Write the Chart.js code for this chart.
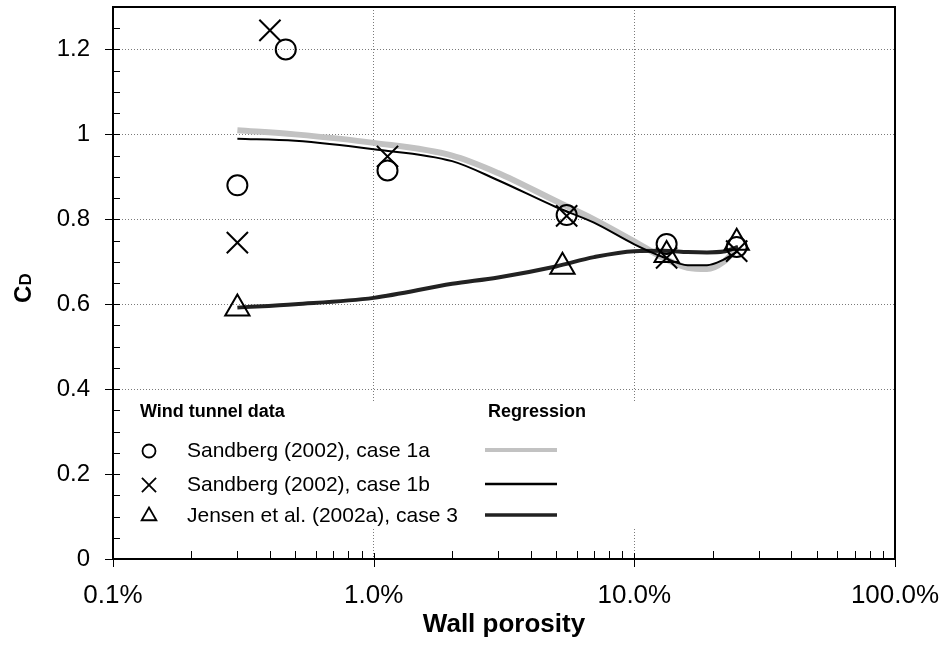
<!DOCTYPE html>
<html>
<head>
<meta charset="utf-8">
<script src="https://cdn.jsdelivr.net/npm/chart.js@4.4.0/dist/chart.umd.min.js"></script>
<style>
  html, body { margin: 0; padding: 0; background: #fff; }
  #wrap { width: 948px; height: 650px; }
</style>
</head>
<body>
<div id="wrap"><canvas id="cdChart"></canvas></div>
<script>
// Wall porosity as a fraction (0.003 = 0.3 %), drag coefficient C_D
const case1aX = [0.003, 0.0046, 0.0113, 0.055, 0.133, 0.247];
const case1aY = [0.88, 1.20, 0.915, 0.81, 0.742, 0.735];
const case1bX = [0.003, 0.004, 0.0113, 0.055, 0.133, 0.247];
const case1bY = [0.745, 1.245, 0.948, 0.808, 0.709, 0.725];
const case3X = [0.003, 0.053, 0.133, 0.247];
const case3Y = [0.59, 0.688, 0.716, 0.745];

// regression curves
const regX = [0.003, 0.005, 0.01, 0.02, 0.03, 0.05, 0.07, 0.1, 0.13, 0.16, 0.19, 0.22, 0.25];
const reg1aY = [1.01, 1.0, 0.98, 0.95, 0.909, 0.843, 0.80, 0.748, 0.708, 0.686, 0.683, 0.70, 0.735];
const reg1bY = [0.99, 0.985, 0.965, 0.937, 0.892, 0.829, 0.792, 0.741, 0.71, 0.692, 0.692, 0.705, 0.725];
const reg3Y = [0.592, 0.60, 0.615, 0.648, 0.663, 0.689, 0.711, 0.725, 0.726, 0.723, 0.722, 0.724, 0.735];

const seriesLabels = ["Sandberg (2002), case 1a", "Sandberg (2002), case 1b", "Jensen et al. (2002a), case 3"];
const xTicks = [0.001, 0.01, 0.1, 1];
const yTicks = [0, 0.2, 0.4, 0.6, 0.8, 1, 1.2];

const FONT = '"Liberation Sans", Arial, sans-serif';
const toPts = (xs, ys) => xs.map((x, i) => ({ x: x, y: ys[i] }));

const markerStyles = [
  { pointStyle: "circle", radius: 10, legendRadius: 6.5 },
  { pointStyle: "crossRot", radius: 15, legendRadius: 10 },
  { pointStyle: "triangle", radius: 14, legendRadius: 8.5 }
];
const lineStyles = [
  { color: "#c2c2c2", width: 6, legendWidth: 4 },
  { color: "#000000", width: 2, legendWidth: 2.5 },
  { color: "#222222", width: 4, legendWidth: 3.5 }
];

// frame, tick marks, y title and the in-plot legend
const decorations = {
  id: "decorations",
  beforeDatasetsDraw(chart) {
    const { ctx, chartArea: a } = chart;
    ctx.save();
    ctx.fillStyle = "#fff";
    ctx.fillRect(a.left + 1, a.top + 396, a.right - a.left - 2, 124);
    ctx.restore();
  },
  afterDatasetsDraw(chart) {
    const { ctx, chartArea: a, scales } = chart;
    const xs = scales.x, ys = scales.y;
    ctx.save();
    ctx.strokeStyle = "#000";
    ctx.lineWidth = 2;
    ctx.strokeRect(a.left, a.top, a.right - a.left, a.bottom - a.top);

    ctx.lineWidth = 1;
    ctx.beginPath();
    xTicks.forEach(v => {
      const px = Math.round(xs.getPixelForValue(v)) + 0.5;
      ctx.moveTo(px, a.bottom - 6); ctx.lineTo(px, a.bottom + 8);
      if (v < 1) {
        for (let m = 2; m <= 9; m++) {
          const mx = Math.round(xs.getPixelForValue(v * m)) + 0.5;
          ctx.moveTo(mx, a.bottom); ctx.lineTo(mx, a.bottom - 8);
        }
      }
    });
    for (let k = 0; k <= 26; k++) {
      const v = k * 0.05;
      const py = Math.round(ys.getPixelForValue(v)) + 0.5;
      if (k % 4 === 0) { ctx.moveTo(a.left - 8, py); ctx.lineTo(a.left + 7, py); }
      else { ctx.moveTo(a.left, py); ctx.lineTo(a.left + 7, py); }
    }
    ctx.stroke();

    // y title C_D
    ctx.fillStyle = "#000";
    ctx.translate(31, 303);
    ctx.rotate(-Math.PI / 2);
    ctx.textBaseline = "alphabetic";
    ctx.font = "bold 24px " + FONT;
    ctx.fillText("C", 0, 0);
    ctx.font = "bold 17px " + FONT;
    ctx.fillText("D", 17.5, 0);
    ctx.setTransform(1, 0, 0, 1, 0, 0);

    // legend
    const lx = a.left;
    ctx.textBaseline = "middle";
    ctx.font = "bold 18px " + FONT;
    ctx.fillText("Wind tunnel data", lx + 27, 412);
    ctx.fillText("Regression", lx + 375, 412);
    ctx.font = "21px " + FONT;
    const rowY = [451, 485, 516];
    rowY.forEach((ry, i) => {
      const ms = markerStyles[i];
      ctx.strokeStyle = "#000";
      ctx.lineWidth = 1.8;
      ctx.fillStyle = "rgba(0,0,0,0)";
      Chart.helpers.drawPoint(ctx, { pointStyle: ms.pointStyle, radius: ms.legendRadius, borderWidth: 1.8, rotation: 0 }, lx + 36, ry);
      ctx.fillStyle = "#000";
      ctx.fillText(seriesLabels[i], lx + 74, ry);
      const ls = lineStyles[i];
      ctx.strokeStyle = ls.color;
      ctx.lineWidth = ls.legendWidth;
      ctx.beginPath();
      ctx.moveTo(lx + 372, ry - 1); ctx.lineTo(lx + 444, ry - 1);
      ctx.stroke();
    });
    ctx.restore();
  }
};

const pointDataset = (label, pts, i) => ({
  label: label,
  data: pts,
  showLine: false,
  pointStyle: markerStyles[i].pointStyle,
  pointRadius: markerStyles[i].radius,
  pointHoverRadius: markerStyles[i].radius,
  borderColor: "#000",
  backgroundColor: "rgba(0,0,0,0)",
  pointBorderWidth: 2
});
const lineDataset = (label, pts, i) => ({
  label: label,
  data: pts,
  showLine: true,
  pointRadius: 0,
  borderColor: lineStyles[i].color,
  borderWidth: lineStyles[i].width,
  cubicInterpolationMode: "monotone",
  fill: false
});

new Chart(document.getElementById("cdChart"), {
  type: "scatter",
  data: {
    datasets: [
      pointDataset(seriesLabels[0], toPts(case1aX, case1aY), 0),
      pointDataset(seriesLabels[1], toPts(case1bX, case1bY), 1),
      pointDataset(seriesLabels[2], toPts(case3X, case3Y), 2),
      lineDataset("Regression 1b", toPts(regX, reg1bY), 1),
      lineDataset("Regression 3", toPts(regX, reg3Y), 2),
      lineDataset("Regression 1a", toPts(regX, reg1aY), 0)
    ]
  },
  options: {
    responsive: true,
    maintainAspectRatio: false,
    animation: false,
    layout: { autoPadding: false, padding: { top: 7, right: 53, left: 0, bottom: 0 } },
    plugins: {
      legend: { display: false },
      tooltip: { enabled: false }
    },
    scales: {
      x: {
        type: "logarithmic",
        min: 0.001,
        max: 1,
        afterBuildTicks: s => { s.ticks = xTicks.map(v => ({ value: v })); },
        afterFit: s => { s.height = 91; s.paddingLeft = 0; s.paddingRight = 0; },
        grid: { color: "#7a7a7a", lineWidth: 1, drawTicks: false },
        border: { display: false, dash: [1, 2] },
        ticks: {
          autoSkip: false,
          maxRotation: 0,
          padding: 21,
          color: "#000",
          font: { family: FONT, size: 26 },
          callback: v => (v * 100).toFixed(1) + "%"
        },
        title: {
          display: true,
          text: "Wall porosity",
          color: "#000",
          font: { family: FONT, size: 26, weight: "bold" },
          padding: { top: 0, bottom: 10 }
        }
      },
      y: {
        min: 0,
        max: 1.3,
        afterBuildTicks: s => { s.ticks = yTicks.map(v => ({ value: v })); },
        afterFit: s => { s.width = 113; s.paddingTop = 0; s.paddingBottom = 0; },
        grid: { color: "#7a7a7a", lineWidth: 1, drawTicks: false },
        border: { display: false, dash: [1, 2] },
        ticks: {
          padding: 23,
          color: "#000",
          font: { family: FONT, size: 24 },
          callback: v => String(v)
        }
      }
    }
  },
  plugins: [decorations]
});
</script>
</body>
</html>
